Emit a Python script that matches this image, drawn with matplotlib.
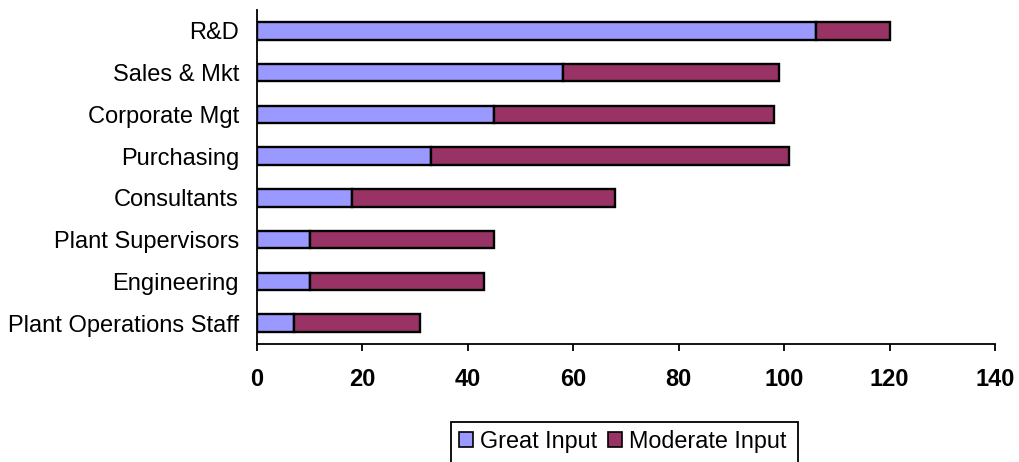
import matplotlib
matplotlib.use("Agg")
import matplotlib.pyplot as plt
from matplotlib.patches import Patch, Rectangle

plt.rcParams['font.family'] = ['Liberation Sans', 'DejaVu Sans']

categories = ["Plant Operations Staff", "Engineering", "Plant Supervisors",
              "Consultants", "Purchasing", "Corporate Mgt", "Sales & Mkt", "R&D"]
great_input = [7, 10, 10, 18, 33, 45, 58, 106]
moderate_input = [24, 33, 35, 50, 68, 53, 41, 14]
x_ticks = [0, 20, 40, 60, 80, 100, 120, 140]

great_color = "#9999FF"
moderate_color = "#993366"

W, H = 1020, 462
fig = plt.figure(figsize=(W / 100, H / 100), dpi=100)
ax = fig.add_axes([257 / W, 1 - 344 / H, (995 - 257) / W, (344 - 10) / H])

y = range(len(categories))
ax.barh(y, great_input, height=0.42, color=great_color, edgecolor="black", linewidth=1.7)
ax.barh(y, moderate_input, left=great_input, height=0.42, color=moderate_color,
        edgecolor="black", linewidth=1.7)

ax.set_xlim(0, 140)
ax.set_ylim(-0.5, len(categories) - 0.5)
ax.set_xticks(x_ticks)
ax.set_xticklabels([str(t) for t in x_ticks], fontsize=17, fontweight="bold")
ax.set_yticks(list(y))
ax.set_yticklabels(categories, fontsize=17)
ax.tick_params(axis="y", length=0, pad=13)
ax.tick_params(axis="x", length=5, width=1.3, direction="out", pad=12)

for side in ("top", "right"):
    ax.spines[side].set_visible(False)
for side in ("left", "bottom"):
    ax.spines[side].set_linewidth(1.3)

# Legend box runs past the bottom edge of the figure
fig.patches.append(Rectangle((451 / W, -0.05), (798 - 451) / W, 0.05 + (H - 422) / H,
                             transform=fig.transFigure, facecolor="white",
                             edgecolor="black", linewidth=1.3, zorder=1))

handles = [Patch(facecolor=great_color, edgecolor="black", linewidth=1.2, label="Great Input"),
           Patch(facecolor=moderate_color, edgecolor="black", linewidth=1.2, label="Moderate Input")]
leg = fig.legend(handles=handles, loc="upper left", bbox_to_anchor=(459 / W, 1 - 430 / H),
                 ncol=2, fontsize=16.8, frameon=False, handlelength=0.6,
                 handleheight=0.6, handletextpad=0.3, columnspacing=0.45,
                 borderpad=0, borderaxespad=0)
leg.set_zorder(2)

fig.savefig("out.png", dpi=100)
